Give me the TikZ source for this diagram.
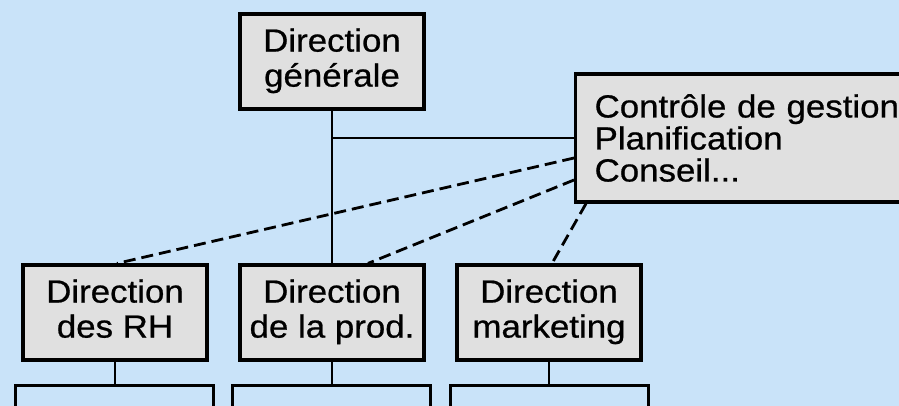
\documentclass[tikz,border=0pt]{standalone}
\usepackage{fontspec}
\setmainfont[FakeStretch=1.09, FakeBold=0.7]{Liberation Sans}
\definecolor{skyback}{RGB}{201,227,249}
\definecolor{boxgrey}{RGB}{224,224,224}
\tikzset{box/.style={draw, line width=3.2pt, fill=boxgrey, inner sep=0pt, align=center, font=\fontsize{32}{35}\selectfont}}
\tikzset{unit/.style={box, minimum width=184pt, minimum height=95pt, text depth=8pt}}
\tikzset{staff/.style={box, anchor=west, align=left, text width=310pt, inner xsep=19pt, minimum height=128pt, font=\fontsize{32}{32}\selectfont}}
\tikzset{sub/.style={draw, line width=3pt, minimum width=198pt, minimum height=60pt}}
\tikzset{link/.style={line width=2.6pt}}
\tikzset{staffline/.style={line width=2.8pt, dash pattern=on 12pt off 6pt}}

\begin{document}
\begin{tikzpicture}[x=1pt, y=-1pt]
\useasboundingbox[fill=skyback] (0,0) rectangle (899,406);
\node[unit] (dg) at (332,61.5) {Direction\\générale};
\node[staff] (ctl) at (574,138) {Contrôle de gestion\\Planification\\Conseil...};
\node[unit] (rh) at (115,312.5) {Direction\\des RH};
\node[unit] (prod) at (332,312.5) {Direction\\de la prod.};
\node[unit] (mkt) at (549,312.5) {Direction\\marketing};
\node[sub] (rhsub) at (114,415) {};
\node[sub] (prodsub) at (331,415) {};
\node[sub] (mktsub) at (549,415) {};
\draw[link] (dg.south) -- (prod.north);
\draw[link] (ctl.west) -- (ctl.west -| dg.south);
\draw[link] (rh.south) -- (rh.south |- rhsub.north);
\draw[link] (prod.south) -- (prod.south |- prodsub.north);
\draw[link] (mkt.south) -- (mkt.south |- mktsub.north);
\draw[staffline] ([yshift=-20pt]ctl.west) -- ([xshift=2pt]rh.north);
\draw[staffline] ([yshift=-42pt]ctl.west) -- ([xshift=36pt]prod.north);
\draw[staffline] ([xshift=12pt]ctl.south west) -- ([xshift=3pt]mkt.north);
\end{tikzpicture}
\end{document}
